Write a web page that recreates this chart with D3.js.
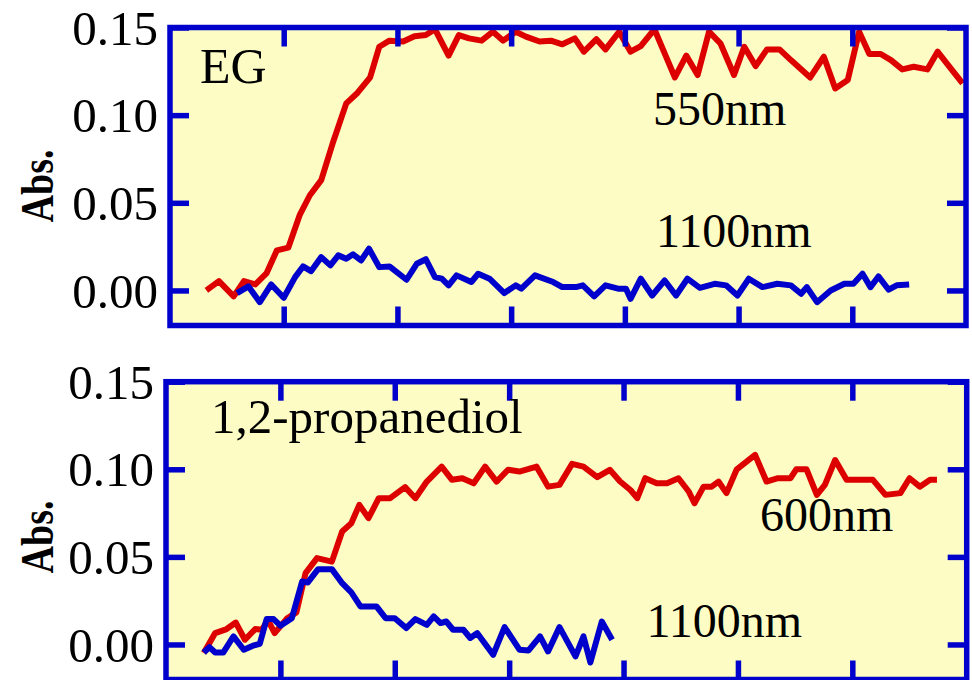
<!DOCTYPE html>
<html>
<head>
<meta charset="utf-8">
<script src="https://cdn.jsdelivr.net/npm/d3@7/dist/d3.min.js"></script>
<style>
  html, body { margin: 0; padding: 0; background: #ffffff; }
  svg { display: block; }
  text { font-family: "Liberation Serif", "Times New Roman", Times, serif; fill: #000; }
</style>
</head>
<body>
<svg id="chart" width="972" height="680"></svg>
<script>
// Absorbance vs. time, [time, abs] pairs
const egAbs550 = [
  [3.2,0.000],[4.3,0.0053],[5.6,-0.0034],[6.5,0.0053],[7.5,0.0034],[8.5,0.0099],[9.4,0.0229],
  [10.4,0.0244],[11.4,0.0429],[12.3,0.0543],[13.3,0.0629],[14.3,0.0838],[15.5,0.1067],[16.5,0.1128],
  [17.6,0.1215],[18.4,0.139],[19.3,0.1425],[20.5,0.142],[21.5,0.145],[22.5,0.1457],[23.3,0.149],
  [24.5,0.134],[25.4,0.1457],[26.3,0.1438],[27.4,0.1425],[28.4,0.1476],[29.3,0.1425],[30.4,0.1476],
  [31.3,0.1448],[32.5,0.142],[33.5,0.1425],[34.5,0.1404],[35.6,0.1438],[36.4,0.1362],[37.5,0.1433],
  [38.3,0.1375],[39.5,0.1476],[40.5,0.1362],[41.4,0.1394],[42.6,0.149],[43.5,0.1352],[44.4,0.1215],
  [45.4,0.134],[46.4,0.1229],[47.4,0.1476],[48.4,0.141],[49.6,0.1229],[50.5,0.139],[51.5,0.128],
  [52.5,0.1375],[53.6,0.1375],[54.6,0.1314],[56.3,0.1215],[57.5,0.1333],[58.5,0.1152],[59.6,0.12],
  [60.6,0.1476],[61.5,0.1349],[62.5,0.1349],[63.4,0.1314],[64.4,0.1261],[65.4,0.1276],[66.6,0.1261],
  [67.5,0.1362],[68.5,0.128],[69.7,0.1181]
];
const egAbs1100 = [
  [5.9,-0.0015],[6.9,0.0023],[7.9,-0.0067],[8.9,0.0034],[10.0,-0.0042],[11.0,0.0076],[11.7,0.0137],
  [12.4,0.011],[13.3,0.019],[14.1,0.0143],[14.8,0.020],[15.5,0.0181],[16.1,0.0206],[16.8,0.0171],
  [17.5,0.0238],[18.4,0.0133],[19.3,0.0137],[20.8,0.0061],[21.7,0.0152],[22.5,0.0178],[23.3,0.0076],
  [23.9,0.0067],[24.5,0.0029],[25.2,0.0086],[26.5,0.0048],[27.1,0.0095],[28.1,0.0067],[29.4,-0.0015],
  [30.4,0.0029],[30.9,0.001],[32.1,0.0086],[33.7,0.0048],[34.5,0.0019],[35.7,0.0019],[36.3,0.0029],
  [37.3,-0.0034],[38.3,0.0029],[39.4,0.001],[40.1,0.001],[40.5,-0.0048],[41.4,0.0067],[42.4,-0.0029],
  [43.5,0.0057],[44.5,-0.0029],[45.5,0.0067],[46.6,0.0015],[47.9,0.0038],[48.9,0.0029],[49.9,-0.0029],
  [50.9,0.0067],[52.1,0.0019],[53.4,0.0038],[54.6,0.0029],[55.5,-0.0019],[56.0,0.0019],[56.9,-0.0067],
  [58.1,0.0],[59.3,0.0038],[60.1,0.0038],[60.9,0.0095],[61.6,0.0019],[62.3,0.008],[63.2,0.0004],
  [63.9,0.0029],[65.0,0.0034]
];
const pdAbs600 = [
  [3.3,-0.0049],[4.3,0.0065],[5.3,0.0088],[6.1,0.0125],[6.9,0.0027],[7.8,0.0088],[8.4,0.0084],
  [8.9,0.0141],[9.5,0.0065],[10.6,0.015],[11.4,0.0183],[12.2,0.0407],[13.2,0.0493],[14.5,0.0473],
  [15.4,0.0645],[16.2,0.0692],[16.9,0.0797],[17.7,0.0721],[18.6,0.0835],[19.6,0.0835],[20.9,0.0898],
  [21.8,0.0835],[22.8,0.093],[24.1,0.1015],[25.0,0.094],[25.9,0.0949],[26.9,0.092],[27.9,0.1015],
  [28.9,0.093],[29.9,0.0997],[30.9,0.0987],[32.4,0.1015],[33.4,0.0901],[34.4,0.0911],[35.5,0.1031],
  [36.5,0.1015],[37.7,0.0955],[38.8,0.0997],[39.7,0.093],[40.6,0.0882],[41.2,0.0835],[41.9,0.0949],
  [42.9,0.092],[43.8,0.092],[44.8,0.0949],[45.7,0.0873],[46.2,0.0806],[47.0,0.0901],[47.7,0.0901],
  [48.3,0.093],[49.0,0.0864],[49.9,0.1],[51.5,0.1082],[52.5,0.093],[53.5,0.0949],[54.6,0.0949],
  [55.1,0.1],[56.0,0.1],[56.9,0.0854],[57.6,0.0911],[58.5,0.1053],[59.5,0.094],[60.7,0.094],
  [61.8,0.094],[62.9,0.0854],[64.2,0.0864],[65.0,0.0949],[65.9,0.0901],[66.8,0.094],[67.4,0.094]
];
const pdAbs1100 = [
  [3.3,-0.0046],[3.8,-0.0015],[4.3,-0.0046],[5.0,-0.0046],[5.9,0.0046],[6.8,-0.003],[7.6,-0.0007],
  [8.2,0.0004],[8.8,0.0145],[9.4,0.0145],[10.0,0.0107],[11.0,0.015],[11.9,0.0359],[12.4,0.0354],
  [13.3,0.043],[14.5,0.043],[15.4,0.035],[16.2,0.0297],[17.0,0.0217],[18.4,0.0217],[19.2,0.015],
  [20.0,0.015],[21.0,0.0094],[21.8,0.0145],[22.8,0.0112],[23.4,0.016],[24.0,0.0122],[24.5,0.0131],
  [25.1,0.0084],[26.0,0.0084],[26.6,0.0037],[27.2,0.0065],[28.6,-0.0059],[29.6,0.0099],[30.9,-0.003],
  [31.7,-0.0034],[32.7,0.0046],[33.4,-0.004],[34.4,0.0099],[35.8,-0.0068],[36.5,0.0046],[37.1,-0.0103],
  [38.1,0.0131],[39.0,0.0027]
];

const yTickValues = [0, 0.05, 0.10, 0.15];
const xTickValues = [10, 20, 30, 40, 50, 60];
const yDomain = [-0.02, 0.15];
const xDomain = [0, 70];

const panels = [
  { id: "eg", left: 170, right: 966, top: 27.5, bottom: 325.5,
    series: [ { data: egAbs550, color: "#dd0000" }, { data: egAbs1100, color: "#0000cc" } ],
    labels: [
      { text: "EG", x: 200, y: 83, size: 50 },
      { text: "550nm", x: 653, y: 125, size: 48 },
      { text: "1100nm", x: 656, y: 246.5, size: 48 }
    ],
    ylabelY: 186 },
  { id: "pd", left: 166, right: 966.7, top: 381.7, bottom: 679.5,
    series: [ { data: pdAbs600, color: "#dd0000" }, { data: pdAbs1100, color: "#0000cc" } ],
    labels: [
      { text: "1,2-propanediol", x: 211, y: 433, size: 49 },
      { text: "600nm", x: 760, y: 530.5, size: 48 },
      { text: "1100nm", x: 646.5, y: 636.5, size: 48 }
    ],
    ylabelY: 537 }
];

const frameColor = "#0000cc";
const frameWidth = 5.5;
const tickLen = 19;

const svg = d3.select("#chart");
const defs = svg.append("defs");

panels.forEach(p => {
  const x = d3.scaleLinear().domain(xDomain).range([p.left, p.right]);
  const y = d3.scaleLinear().domain(yDomain).range([p.bottom, p.top]);
  const g = svg.append("g").attr("class", "panel-" + p.id);

  // plot background
  g.append("rect")
    .attr("x", p.left).attr("y", p.top)
    .attr("width", p.right - p.left).attr("height", p.bottom - p.top)
    .attr("fill", "#fcfcc4");

  defs.append("clipPath").attr("id", "clip-" + p.id)
    .append("rect")
    .attr("x", p.left).attr("y", p.top)
    .attr("width", p.right - p.left).attr("height", p.bottom - p.top);

  const line = d3.line().x(d => x(d[0])).y(d => y(d[1]));
  const lines = g.append("g").attr("clip-path", "url(#clip-" + p.id + ")");
  p.series.forEach(s => {
    lines.append("path")
      .datum(s.data)
      .attr("d", line)
      .attr("fill", "none")
      .attr("stroke", s.color)
      .attr("stroke-width", 6)
      .attr("stroke-linejoin", "round")
      .attr("stroke-linecap", "butt");
  });

  // inward ticks on all four sides
  const axes = [
    { axis: d3.axisLeft(y).tickValues(yTickValues).tickFormat(d3.format(".2f")), tx: p.left, ty: 0, labels: true },
    { axis: d3.axisRight(y).tickValues(yTickValues).tickFormat(""), tx: p.right, ty: 0 },
    { axis: d3.axisTop(x).tickValues(xTickValues).tickFormat(""), tx: 0, ty: p.top },
    { axis: d3.axisBottom(x).tickValues(xTickValues).tickFormat(""), tx: 0, ty: p.bottom }
  ];
  axes.forEach(a => {
    const ag = g.append("g")
      .attr("transform", `translate(${a.tx},${a.ty})`)
      .call(a.axis.tickSize(-tickLen).tickPadding(12));
    ag.select(".domain").remove();
    ag.selectAll(".tick line")
      .attr("stroke", frameColor)
      .attr("stroke-width", frameWidth);
    ag.selectAll(".tick text")
      .style("font-family", '"Liberation Serif", "Times New Roman", serif')
      .style("font-size", "49px")
      .attr("fill", "#000")
      .attr("dy", "0.34em");
  });

  // frame
  g.append("rect")
    .attr("x", p.left).attr("y", p.top)
    .attr("width", p.right - p.left).attr("height", p.bottom - p.top)
    .attr("fill", "none")
    .attr("stroke", frameColor)
    .attr("stroke-width", frameWidth);

  p.labels.forEach(l => {
    g.append("text")
      .attr("x", l.x).attr("y", l.y)
      .style("font-size", l.size + "px")
      .text(l.text);
  });

  g.append("text")
    .attr("transform", `translate(53,${p.ylabelY}) rotate(-90) scale(1,1.2)`)
    .attr("text-anchor", "middle")
    .style("font-size", "38px")
    .style("font-weight", "bold")
    .text("Abs.");
});
</script>
</body>
</html>
